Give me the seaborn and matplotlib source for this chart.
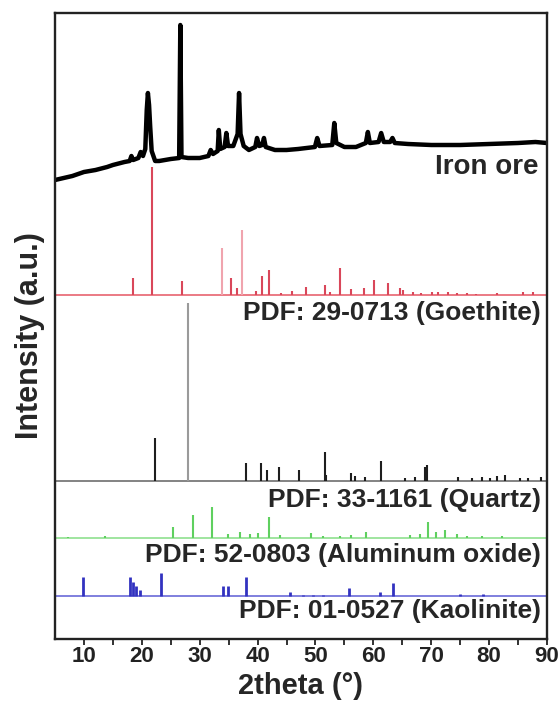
import matplotlib
matplotlib.use("Agg")
import matplotlib.pyplot as plt
import seaborn as sns
import pandas as pd
import numpy as np

# ---------------- data ----------------
iron_2theta = [5, 6.5, 8, 10, 12, 14, 15, 17, 17.9, 18.2, 18.5, 19.4, 19.8, 20.2, 20.6, 20.85, 21.05, 21.25, 21.45,
               21.7, 22.3, 23, 25, 26.45, 26.65, 26.85, 28, 30, 31.5, 31.9, 32.3, 33.1, 33.3, 33.55, 34.3, 34.6,
               34.9, 35.8, 36.55, 36.8, 37.05, 37.6, 38.5, 39.6, 39.9, 40.3, 40.8, 41.1, 41.4, 43, 45, 47, 49.9,
               50.3, 50.7, 52.9, 53.25, 53.6, 55, 57, 58.7, 59.05, 59.4, 60.9, 61.35, 61.8, 62.9, 63.3, 63.7,
               66, 70, 75, 80, 85, 88, 90]
iron_int = [459, 461, 463, 467, 469, 472, 474, 477, 478, 483, 479, 481, 487, 483, 490, 529, 546, 534, 512,
            488, 478, 478, 480, 481, 614, 482, 481, 481, 483, 489, 485, 488, 509, 490, 492, 506,
            493, 493, 505, 546, 505, 493, 489, 492, 501, 493, 494, 501, 492, 489, 489, 490, 492,
            501, 493, 494, 516, 496, 492, 492, 496, 507, 496, 497, 506, 497, 497, 501, 496,
            495, 494, 494, 495, 496, 497, 496]

goe_pos = [18.4, 21.7, 27.0, 33.9, 35.4, 36.4, 37.3, 39.8, 40.7, 42.0, 44.1, 46.0, 48.3, 51.6, 52.5, 54.2,
           56.2, 58.4, 60.1, 62.6, 64.6, 65.2, 66.8, 68.3, 70.1, 71.2, 72.9, 74.4, 76.1, 77.8, 81.3, 85.9, 87.6]
goe_int = [17, 128, 14, 47, 17, 7, 65, 4, 19, 25, 2, 4, 8, 10, 3, 27,
           6, 7, 15, 12, 7, 5, 3, 2, 3, 3, 3, 2, 2, 1.5, 2, 3, 3]

qtz_pos = [22.3, 28.0, 38.0, 40.6, 41.6, 43.7, 47.2, 51.6, 51.9, 56.2, 56.8, 58.5, 61.3, 65.5, 67.2, 68.9,
           69.3, 74.7, 77.0, 78.7, 80.1, 81.3, 82.7, 85.3, 86.7, 89.0]
qtz_int = [43, 178, 18, 18, 11, 14, 11, 29, 6, 8, 5, 4, 20, 3, 4, 14,
           16, 4, 3, 4, 3, 5, 6, 3, 3, 4]

alo_pos = [7.3, 13.6, 25.4, 28.8, 32.1, 34.9, 36.9, 38.7, 40.1, 42.0, 43.9, 49.3, 51.3, 54.2, 56.2, 58.8,
           66.3, 68.0, 69.5, 70.9, 72.4, 74.4, 76.1, 78.7, 82.2]
alo_int = [1, 2, 11, 23, 31, 4, 6, 4, 5, 21, 3, 5, 2, 2, 3, 6,
           3, 4, 16, 6, 8, 4, 2, 2, 2]

kao_pos = [9.9, 18.0, 18.4, 19.0, 19.7, 23.3, 34.1, 34.9, 38.0, 45.6, 47.9, 49.6, 51.3, 55.8, 61.1, 63.4,
           75.0, 79.0]
kao_int = [19, 19, 14, 10, 6, 23, 10, 10, 19, 4, 1, 1, 1, 8, 4, 13, 2, 2]

labels = ["Iron ore", "PDF: 29-0713 (Goethite)", "PDF: 33-1161 (Quartz)",
          "PDF: 52-0803 (Aluminum oxide)", "PDF: 01-0527 (Kaolinite)"]
x_ticks = [10, 20, 30, 40, 50, 60, 70, 80, 90]

# ---------------- style ----------------
sns.set_style("ticks")
plt.rcParams['font.family'] = ['Liberation Sans', 'DejaVu Sans']
plt.rcParams['font.weight'] = 'bold'

fig = plt.figure(figsize=(5.6, 7.04), dpi=100)
ax = fig.add_axes([55/560, 1 - 639/704, 492/560, 626/704])

# iron ore pattern
df_iron = pd.DataFrame({"2theta": iron_2theta, "I": iron_int})
sns.lineplot(data=df_iron, x="2theta", y="I", ax=ax, color="black", lw=3.2,
             sort=False, estimator=None, solid_joinstyle="round")

# reference stick patterns
offsets = {"goe": 344, "qtz": 158, "alo": 101, "kao": 43}

def sticks(pos, inten, base, colors, lw, base_color):
    ax.axhline(base, color=base_color, lw=1.2, zorder=1)
    ax.vlines(pos, base, np.asarray(inten) + base, colors=colors, lw=lw, zorder=2)

goe_cols = ["#f0a4ae" if p in (33.9, 37.3) else "#d9475a" for p in goe_pos]
sticks(goe_pos, goe_int, offsets["goe"], goe_cols, 1.5, "#e86470")
qtz_cols = ["#9a9a9a" if p == 28.0 else "#1e1e1e" for p in qtz_pos]
sticks(qtz_pos, qtz_int, offsets["qtz"], qtz_cols, 1.5, "#6e6e6e")
sticks(alo_pos, alo_int, offsets["alo"], "#5fd05f", 1.5, "#8fe08f")
sticks(kao_pos, kao_int, offsets["kao"], "#3232c0", 2.0, "#6a6ad8")

# labels
fs = 19
ax.text(88.5, 472, labels[0], ha="right", va="center", fontsize=20, fontweight="bold")
ax.text(88.9, 326, labels[1], ha="right", va="center", fontsize=fs, fontweight="bold")
ax.text(88.9, 139, labels[2], ha="right", va="center", fontsize=fs, fontweight="bold")
ax.text(88.9, 84, labels[3], ha="right", va="center", fontsize=fs, fontweight="bold")
ax.text(88.9, 28, labels[4], ha="right", va="center", fontsize=fs, fontweight="bold")

ax.set_xlim(5, 90)
ax.set_ylim(0, 626)
ax.set_xticks(x_ticks)
ax.set_xticks([15, 25, 35, 45, 55, 65, 75, 85], minor=True)
ax.set_xticklabels([str(t) for t in x_ticks], fontsize=16, fontweight="bold")
ax.tick_params(axis="x", which="both", direction="out", length=4, width=1.3, pad=1, colors="#222222")
ax.set_yticks([])
ax.set_xlabel("")
ax.set_ylabel("")
for s in ax.spines.values():
    s.set_linewidth(1.7)
    s.set_color("#222222")

fig.text(30/560, 1 - 336/704, "Intensity (a.u.)", rotation=90, ha="center", va="center",
         fontsize=22, fontweight="bold")
fig.text(301/560, 1 - 686/704, "2theta (°)", ha="center", va="center",
         fontsize=21, fontweight="bold")

fig.savefig("out.png", dpi=100)
